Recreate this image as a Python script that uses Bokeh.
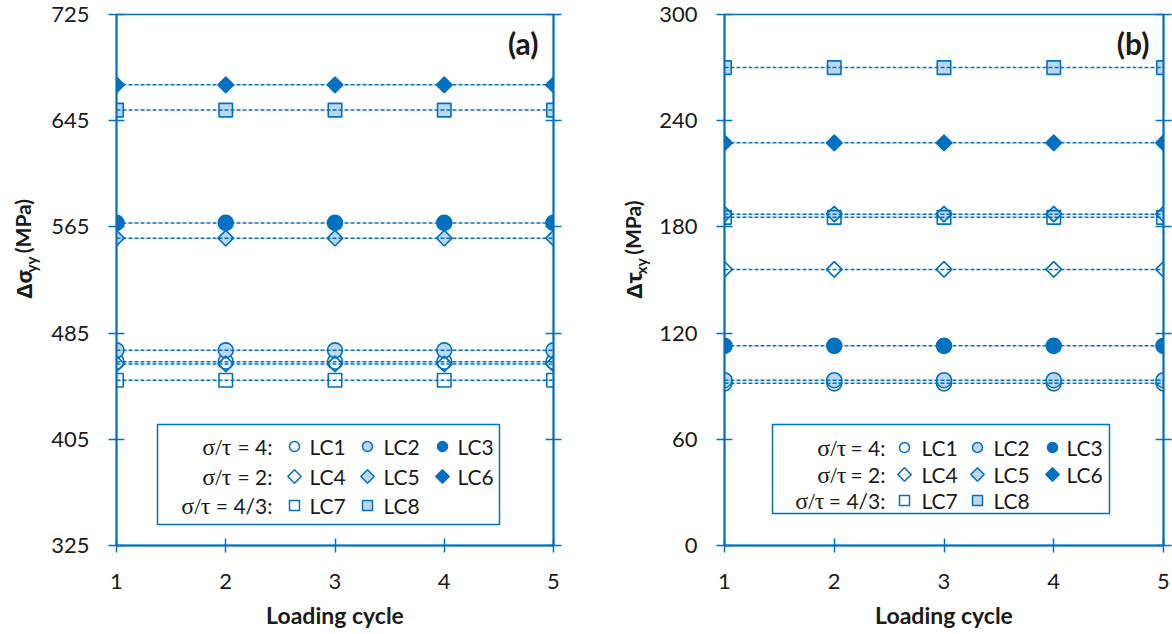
import numpy as np
from bokeh.plotting import figure
from bokeh.models import Range1d, FixedTicker, LinearAxis, Label
from bokeh.layouts import row
from bokeh.embed import file_html
from bokeh.resources import INLINE

# ---------------- data ----------------
cycles = [1, 2, 3, 4, 5]
lc_names = ["LC1", "LC2", "LC3", "LC4", "LC5", "LC6", "LC7", "LC8"]

# panel (a): stress range Δσyy (MPa)
dsig_LC1 = [463.5, 463.5, 463.5, 463.5, 463.5]
dsig_LC2 = [472.0, 472.0, 472.0, 472.0, 472.0]
dsig_LC3 = [568.0, 568.0, 568.0, 568.0, 568.0]
dsig_LC4 = [461.8, 461.8, 461.8, 461.8, 461.8]
dsig_LC5 = [556.5, 556.5, 556.5, 556.5, 556.5]
dsig_LC6 = [672.0, 672.0, 672.0, 672.0, 672.0]
dsig_LC7 = [449.5, 449.5, 449.5, 449.5, 449.5]
dsig_LC8 = [653.0, 653.0, 653.0, 653.0, 653.0]

# panel (b): shear stress range Δτxy (MPa)
dtau_LC1 = [91.6, 91.6, 91.6, 91.6, 91.6]
dtau_LC2 = [93.4, 93.4, 93.4, 93.4, 93.4]
dtau_LC3 = [112.8, 112.8, 112.8, 112.8, 112.8]
dtau_LC4 = [156.0, 156.0, 156.0, 156.0, 156.0]
dtau_LC5 = [187.2, 187.2, 187.2, 187.2, 187.2]
dtau_LC6 = [227.5, 227.5, 227.5, 227.5, 227.5]
dtau_LC7 = [185.4, 185.4, 185.4, 185.4, 185.4]
dtau_LC8 = [270.0, 270.0, 270.0, 270.0, 270.0]

sigma_ticks = [325, 405, 485, 565, 645, 725]
tau_ticks = [0, 60, 120, 180, 240, 300]
cycle_ticks = [1, 2, 3, 4, 5]
ratio_sym = "σ/τ"
ratio_vals = ["= 4:", "= 2:", "= 4/3:"]
panel_tags = ["(a)", "(b)"]

# ---------------- style ----------------
BLUE = "#0070C0"
LIGHT = "#BDD7EE"
FONT = "Lato"
GREEK = "Noto Sans"
SERIF = "Liberation Serif"
TXT = "#1a1a1a"
CANVAS_H = 634

kinds = ["circle", "circle", "circle", "diamond", "diamond", "diamond", "square", "square"]
fills = [None, LIGHT, BLUE, None, LIGHT, BLUE, None, LIGHT]


def marker_kw(kind, legend=False):
    if kind == "circle":
        return dict(marker="circle", size=10 if legend else 15, angle=0.0)
    if kind == "diamond":
        return dict(marker="square", size=9.5 if legend else 11, angle=np.pi / 4)
    return dict(marker="square", size=10 if legend else 13.5, angle=0.0)


def make_title(ox, W, parts):
    """Narrow figure that holds the rotated y-axis title (with subscript)."""
    main, sub, unit, tx, y_main, y_sub, y_unit = parts
    t = figure(width=W, height=CANVAS_H, x_range=Range1d(0, W), y_range=Range1d(0, CANVAS_H),
               output_backend="svg", toolbar_location=None,
               x_axis_location=None, y_axis_location=None,
               min_border_left=0, min_border_right=0, min_border_top=0, min_border_bottom=0)
    t.grid.visible = False
    t.outline_line_color = None
    t.add_layout(Label(x=tx - ox, y=CANVAS_H - y_main, text=main, angle=np.pi / 2,
                       text_font=GREEK, text_font_size="22px", text_font_style="bold",
                       text_color=TXT, text_align="left", text_baseline="middle"))
    t.add_layout(Label(x=tx + 8 - ox, y=CANVAS_H - y_sub, text=sub, angle=np.pi / 2,
                       text_font=FONT, text_font_size="15px", text_font_style="bold",
                       text_color=TXT, text_align="left", text_baseline="middle"))
    t.add_layout(Label(x=tx - ox, y=CANVAS_H - y_unit, text=unit, angle=np.pi / 2,
                       text_font=FONT, text_font_size="21px", text_font_style="bold",
                       text_color=TXT, text_align="left", text_baseline="middle"))
    return t


def make_panel(series, y0, y1, yticks, geom, legend_geom, tag, tag_pos):
    ox, L, R, T, B, W, H = geom

    def px2x(px):
        return 1 + (px - L) / (R - L) * 4.0

    def py2y(py):
        return y1 - (py - T) / (B - T) * (y1 - y0)

    p = figure(width=W, height=H, x_range=Range1d(1, 5), y_range=Range1d(y0, y1),
               output_backend="svg", toolbar_location=None,
               min_border_left=L - ox, min_border_right=ox + W - R,
               min_border_top=T, min_border_bottom=H - B)
    p.grid.visible = False
    p.outline_line_color = BLUE
    p.outline_line_width = 1.5

    xa = p.xaxis[0]
    xa.ticker = FixedTicker(ticks=cycle_ticks)
    xa.minor_tick_line_color = None
    xa.major_tick_in = 7
    xa.major_tick_out = 7
    xa.axis_line_color = BLUE
    xa.axis_line_width = 2
    xa.major_tick_line_color = BLUE
    xa.major_tick_line_width = 1.5
    xa.major_label_text_font = FONT
    xa.major_label_text_font_size = "22px"
    xa.major_label_text_color = TXT
    xa.major_label_standoff = 21
    xa.axis_label = "Loading cycle"
    xa.axis_label_text_font = FONT
    xa.axis_label_text_font_size = "23px"
    xa.axis_label_text_font_style = "bold"
    xa.axis_label_text_color = TXT
    xa.axis_label_standoff = 9

    ya = p.yaxis[0]
    ya.ticker = FixedTicker(ticks=yticks)
    ya.minor_tick_line_color = None
    ya.major_tick_in = 8
    ya.major_tick_out = 8
    ya.axis_line_color = BLUE
    ya.axis_line_width = 2
    ya.major_tick_line_color = BLUE
    ya.major_tick_line_width = 1.5
    ya.major_label_text_font = FONT
    ya.major_label_text_font_size = "22px"
    ya.major_label_text_color = TXT
    ya.major_label_standoff = 19

    ra = LinearAxis(ticker=FixedTicker(ticks=yticks), major_label_text_color=None,
                    major_tick_in=8, major_tick_out=8, axis_line_color=BLUE, axis_line_width=2,
                    major_tick_line_color=BLUE, major_tick_line_width=1.5,
                    minor_tick_line_color=None, major_label_standoff=0)
    p.add_layout(ra, "right")

    for vals, kind, fill in zip(series, kinds, fills):
        p.scatter(cycles, vals, line_color=BLUE, line_width=1.6,
                  fill_color=fill if fill else None, **marker_kw(kind))
    for vals in series:
        p.line(cycles, vals, line_color=BLUE, line_width=1.5, line_dash="4 2")

    (bl, bt, br, bb), rows_y, mk_x, tx_x, val_r, sym_r = legend_geom
    p.quad(left=[px2x(bl)], right=[px2x(br)], top=[py2y(bt)], bottom=[py2y(bb)],
           fill_color="white", line_color=BLUE, line_width=1.5)
    for i in range(8):
        r, c = divmod(i, 3)
        p.scatter([px2x(mk_x[c])], [py2y(rows_y[r])], line_color=BLUE, line_width=1.5,
                  fill_color=fills[i] if fills[i] else None, **marker_kw(kinds[i], legend=True))
        p.add_layout(Label(x=px2x(tx_x[c]), y=py2y(rows_y[r]), text=lc_names[i],
                           text_font=FONT, text_font_size="21px", text_color=TXT,
                           text_align="left", text_baseline="middle"))
    for r in range(3):
        p.add_layout(Label(x=px2x(val_r), y=py2y(rows_y[r]), text=ratio_vals[r],
                           text_font=FONT, text_font_size="21px", text_color=TXT,
                           text_align="right", text_baseline="middle"))
        p.add_layout(Label(x=px2x(sym_r[r]), y=py2y(rows_y[r]), text=ratio_sym,
                           text_font=SERIF, text_font_size="24px", text_color=TXT,
                           text_align="right", text_baseline="middle"))

    p.add_layout(Label(x=px2x(tag_pos[0]), y=py2y(tag_pos[1]), text=tag, text_font=FONT,
                       text_font_size="30px", text_font_style="bold", text_color=TXT,
                       text_align="right", text_baseline="middle"))
    return p


sig_series = [dsig_LC1, dsig_LC2, dsig_LC3, dsig_LC4, dsig_LC5, dsig_LC6, dsig_LC7, dsig_LC8]
tau_series = [dtau_LC1, dtau_LC2, dtau_LC3, dtau_LC4, dtau_LC5, dtau_LC6, dtau_LC7, dtau_LC8]

ta = make_title(0, 44, ("Δσ", "yy", "(MPa)", 22, 339, 308, 285))
pa = make_panel(sig_series, 325, 725, sigma_ticks,
                (44, 116, 553, 14, 545, 542, CANVAS_H),
                ((157, 424, 499, 524), [446, 476, 505], [294, 367, 442], [309, 383, 457],
                 272, [231, 231, 210]),
                panel_tags[0], (538, 42))
tb = make_title(586, 66, ("Δτ", "xy", "(MPa)", 632, 339, 310, 287))
pb = make_panel(tau_series, 0, 300, tau_ticks,
                (652, 724, 1163, 14, 545, 520, CANVAS_H),
                ((772, 424, 1109, 513), [447, 474, 500], [904, 977, 1052], [921, 993, 1066],
                 885, [846, 846, 824]),
                panel_tags[1], (1149, 42))

layout = row(ta, pa, tb, pb, spacing=0)
open("out.html", "w").write(file_html(layout, INLINE))
